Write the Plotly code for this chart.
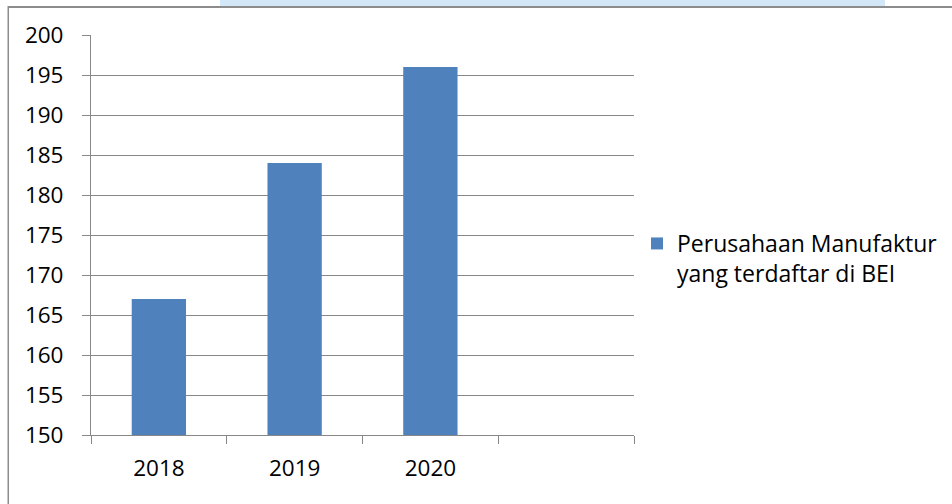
import plotly.graph_objects as go

categories = ["2018", "2019", "2020", " "]
values = [167, 184, 196, None]
series_name = "Perusahaan Manufaktur<br>yang terdaftar di BEI"

W, H = 952, 504
L, R, T, B = 91, 318, 35, 69
pw, ph = W - L - R, H - T - B

def px_x(x):
    return (x - L) / pw

def px_y(y):
    return (H - B - y) / ph

FONT = "'Open Sans', sans-serif"
GRAY = "#888888"
TICK_SIZE = 22.5
LEG_SIZE = 23

fig = go.Figure()
fig.add_trace(go.Bar(
    x=categories, y=values, name=series_name,
    marker=dict(color="#4F81BD", line=dict(width=0)),
    showlegend=True,
))

fig.update_layout(
    width=W, height=H,
    margin=dict(l=L, r=R, t=T, b=B, autoexpand=False),
    paper_bgcolor="white", plot_bgcolor="white",
    bargap=0.6,
    font=dict(family=FONT, size=TICK_SIZE, color="black"),
    showlegend=True,
    legend=dict(
        x=px_x(637), y=px_y(222), xanchor="left", yanchor="top",
        valign="top", font=dict(family=FONT, size=LEG_SIZE, color="black"),
        bgcolor="rgba(0,0,0,0)", borderwidth=0,
    ),
    xaxis=dict(
        type="category", categoryorder="array", categoryarray=categories,
        range=[-0.5, 3.5], tickson="boundaries", ticks="outside", ticklen=8,
        tickcolor=GRAY, showline=True, linecolor=GRAY, linewidth=1,
        showgrid=False, ticklabelstandoff=13,
        tickfont=dict(family=FONT, size=TICK_SIZE, color="black"),
    ),
    yaxis=dict(
        range=[150, 200], tick0=150, dtick=5, ticks="outside", ticklen=8,
        tickcolor=GRAY, showline=True, linecolor=GRAY, linewidth=1,
        showgrid=True, gridcolor=GRAY, gridwidth=1, zeroline=False,
        ticklabelstandoff=14,
        tickfont=dict(family=FONT, size=TICK_SIZE, color="black"),
    ),
    shapes=[
        dict(type="rect", xref="paper", yref="paper",
             x0=px_x(220), x1=px_x(885), y0=px_y(6), y1=px_y(0),
             fillcolor="#d2e8f8", line=dict(width=0), layer="below"),
        dict(type="rect", xref="paper", yref="paper",
             x0=px_x(8), x1=px_x(952), y0=px_y(6), y1=px_y(8),
             fillcolor="#8c8c8c", line=dict(width=0), layer="above"),
        dict(type="rect", xref="paper", yref="paper",
             x0=px_x(7.5), x1=px_x(9), y0=px_y(504), y1=px_y(6),
             fillcolor="#8c8c8c", line=dict(width=0), layer="above"),
    ],
)

fig.write_html("out.html", config={"displayModeBar": False},
               post_script="document.body.style.margin='0';")
